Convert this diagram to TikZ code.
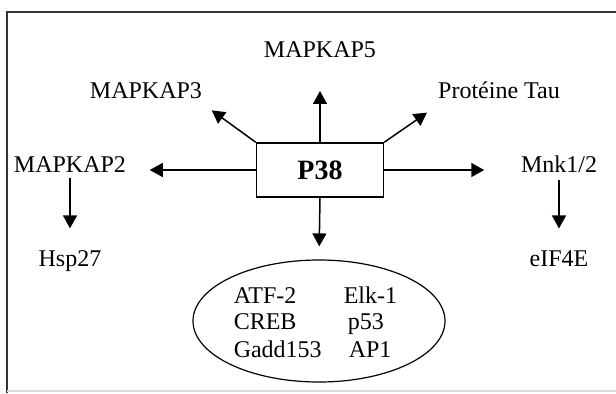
\documentclass[tikz,border=0pt]{standalone}
\usepackage{fontspec}
\setmainfont{Liberation Serif}
\usepackage{tikz}
\usetikzlibrary{arrows.meta,shapes.geometric}

\begin{document}
\begin{tikzpicture}[x=0.5pt,y=-0.5pt,->,>={Triangle[length=6.5pt,width=7pt]},line width=0.75pt]
				\tikzstyle{lbl}=[inner sep=0pt, anchor=base, font=\fontsize{12}{14}\selectfont]
				\tikzstyle{tf}=[inner sep=0pt, anchor=base west, font=\fontsize{12}{14}\selectfont]
				\useasboundingbox (0,0) rectangle (616,393);
				\draw[-, line width=1pt, black!80] (7,393) -- (7,12) -- (616,12);
				\draw[-, line width=0.6pt, black!15] (7,391) -- (616,391);
					\node[draw, minimum width=63.5pt, minimum height=27pt, inner sep=0pt, font=\fontsize{14}{16}\selectfont\bfseries] (P) at (320,170) {P38};
					\node[lbl] (K5) at (320,57) {MAPKAP5};
					\node[lbl] (K3) at (146,98) {MAPKAP3};
					\node[lbl] (Tau) at (499,98) {Protéine Tau};
					\node[lbl] (K2) at (70,172) {MAPKAP2};
					\node[lbl] (Mnk) at (559,172) {Mnk1/2};
					\node[lbl] (Hsp) at (70,266) {Hsp27};
					\node[lbl] (eIF) at (559,266) {eIF4E};
					\node[draw, ellipse, line width=0.6pt, minimum width=126pt, minimum height=61pt] (TF) at (319,321) {};
					\node[tf] (t1) at (233,303) {ATF-2};
					\node[tf] (t2) at (233,329) {CREB};
					\node[tf] (t3) at (233,357) {Gadd153};
					\node[tf] (t4) at (343,303) {Elk-1};
					\node[tf] (t5) at (347,329) {p53};
					\node[tf] (t6) at (348,357) {AP1};
					\path
					(P.north) edge[shorten >=16.5pt] (K5.south)
					(P.north west) edge[shorten >=9.7pt] (K3.-10)
					(P.north east) edge[shorten >=12pt] (Tau.190)
					(P.west) edge[shorten >=11.5pt] (P.west -| K2.east)
					(P.east) edge[shorten >=18pt] (P.east -| Mnk.west)
					(P.south) edge[shorten >=6.5pt] (TF.north)
					(K2.south) edge[shorten <=2.5pt, shorten >=10.5pt] (Hsp.north)
					(Mnk.south) edge[shorten <=3.5pt, shorten >=10.5pt] (eIF.north);
\end{tikzpicture}
\end{document}
